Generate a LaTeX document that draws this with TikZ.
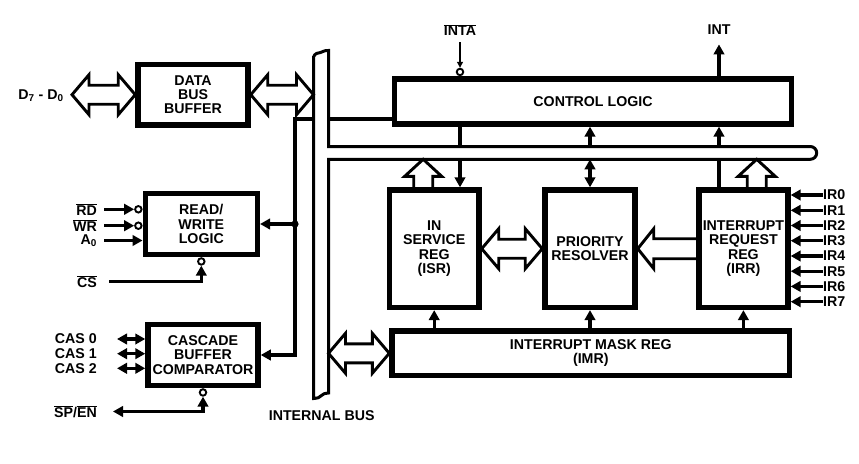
\documentclass[tikz,border=0pt]{standalone}
\usepackage{fontspec}
\setmainfont{Liberation Sans}
\usepackage{tikz}
\usetikzlibrary{arrows.meta,calc,positioning}

\newcommand{\ovl}[1]{$\overline{\hbox{#1}}$}
% hollow arrow with a head at both ends, #1 left tip, #2 right tip
\newcommand{\hollowboth}[2]{\draw[fat] (#1) -- ($(#1)+(17,-20)$) -- ($(#1)+(17,-9.5)$) -- ($(#2)+(-17,-9.5)$) -- ($(#2)+(-17,-20)$) -- (#2) -- ($(#2)+(-17,20)$) -- ($(#2)+(-17,9.5)$) -- ($(#1)+(17,9.5)$) -- ($(#1)+(17,20)$) -- cycle;}
% hollow arrow pointing left, #1 tip, #2 open foot
\newcommand{\hollowleft}[2]{\draw[fat] ($(#2)+(0,-10)$) -- ($(#1)+(16,-10)$) -- ($(#1)+(16,-20)$) -- (#1) -- ($(#1)+(16,20)$) -- ($(#1)+(16,10)$) -- ($(#2)+(0,10)$);}
% hollow arrow pointing up, #1 open foot, #2 tip
\newcommand{\hollowup}[2]{\draw[fat] ($(#1)+(-9.5,0)$) -- ($(#2)+(-9.5,17)$) -- ($(#2)+(-18.5,17)$) -- (#2) -- ($(#2)+(18.5,17)$) -- ($(#2)+(9.5,17)$) -- ($(#1)+(9.5,0)$);}

\begin{document}
\begin{tikzpicture}[
x=1pt,y=-1pt,
font=\bfseries\fontsize{14.2}{14.4}\selectfont,
block/.style={draw,line width=5.5pt,inner sep=0pt,align=center},
signal/.style={line width=3.3pt,>={Triangle[length=10pt,width=10.5pt]}},
fine/.style={line width=1.3pt,>={Triangle[length=6pt,width=6pt]}},
fat/.style={line width=2.9pt},
bubble/.style={circle,draw,fill=white,line width=1.9pt,inner sep=0pt,minimum size=6.5pt},
bus/.style={line width=3pt},
lbl/.style={inner sep=0pt}
]
\useasboundingbox (0,0) rectangle (859,463);

% Blocks
\node[block,minimum width=110pt,minimum height=60.5pt] (dbb) at (193,94.7) {DATA\\BUS\\BUFFER};
\node[block,minimum width=112pt,minimum height=61pt] (rw) at (201.3,224) {READ/\\WRITE\\LOGIC};
\node[block,minimum width=110pt,minimum height=61pt] (cas) at (203,355) {CASCADE\\BUFFER\\COMPARATOR};
\node[block,minimum width=397pt,minimum height=45pt] (ctrl) at (593,101.4) {CONTROL LOGIC};
\node[block,minimum width=89.5pt,minimum height=117.3pt] (isr) at (434.2,248.7) {IN\\SERVICE\\REG\\(ISR)};
\node[block,minimum width=90pt,minimum height=117.3pt] (pr) at (590,248.7) {PRIORITY\\RESOLVER};
\node[block,minimum width=89pt,minimum height=117.3pt] (irr) at (743.4,248.7) {INTERRUPT\\REQUEST\\REG\\(IRR)};
\node[block,minimum width=397.5pt,minimum height=44.5pt] (imr) at (590.8,353.3) {INTERRUPT MASK REG\\(IMR)};

% Internal bus
\coordinate (hbtop) at (0,146.5);
\coordinate (hbbot) at (0,159.3);
\coordinate (vbl) at (313.5,0);
\coordinate (vbr) at (328.5,0);
\draw[bus] (328.5,146.5) -- (810.3,146.5) arc[start angle=90,end angle=-90,radius=6.4pt]
-- (328.5,159.3) -- (328.5,393) .. controls (325,393.5) and (323,393.5) .. (321.5,395.5)
.. controls (320,398) and (317,398) .. (313.5,398.5) -- (313.5,57)
.. controls (315,53) and (318,53) .. (320.5,52.5) .. controls (323,52) and (323,50.5) .. (328.5,50.5) -- cycle;
\node (ibus) at (321.7,416) {INTERNAL BUS};

% Data bus
\node[lbl] (d) at (41,96) {D\textsubscript{7} - D\textsubscript{0}};
\coordinate (dtip) at (72,94.7);
\hollowboth{dtip}{dbb.west}
\hollowboth{dbb.east}{dbb.east -| vbl}

% Read/write logic
\node[lbl,anchor=east] (rd) at (97,209.3) {\ovl{RD}};
\node[lbl,anchor=east] (wr) at (97,225.7) {\ovl{WR}};
\node[lbl,anchor=east] (a0) at (97,240.5) {A\textsubscript{0}};
\node[lbl,anchor=east] (cs) at (97,281.7) {\ovl{CS}};
\node[bubble,anchor=east] (rdb) at (rw.west |- rd) {};
\node[bubble,anchor=east] (wrb) at (rw.west |- wr) {};
\node[bubble,below=0pt of rw] (csb) {};
\draw[signal,->] ([xshift=7pt]rd.east) -- (rdb.west);
\draw[signal,->] ([xshift=7pt]wr.east) -- (wrb.west);
\draw[signal,->] ([xshift=7pt]a0.east) -- (a0 -| rw.west);
\draw[signal,->] ([xshift=12pt]cs.east) -| (csb.south);

% Wire from the bus
\coordinate (tap) at (295,119);
\draw[signal] (tap -| vbr) -- (tap -| ctrl.west);
\draw[signal,->] (tap -| vbl) -- (tap) |- (cas.east);
\draw[signal,->] (tap |- rw.east) -- (rw.east);
\fill (tap |- rw.east) circle (3.6pt);

% Cascade
\node[lbl,anchor=east] (cas0) at (97,339) {CAS 0};
\node[lbl,anchor=east] (cas1) at (97,353.7) {CAS 1};
\node[lbl,anchor=east] (cas2) at (97,368.3) {CAS 2};
\node[lbl,anchor=east] (spen) at (97,411.5) {\ovl{SP}/\ovl{EN}};
\node[bubble,below=0pt of cas] (casb) {};
\draw[signal,<->] ([xshift=20pt]cas0.east) -- (cas0 -| cas.west);
\draw[signal,<->] ([xshift=20pt]cas1.east) -- (cas1 -| cas.west);
\draw[signal,<->] ([xshift=20pt]cas2.east) -- (cas2 -| cas.west);
\draw[signal,<->] ([xshift=16pt]spen.east) -| (casb.south);

% Control logic
\node (inta) at (460,30) {\ovl{INTA}};
\node (int) at (719,30) {INT};
\node[bubble,anchor=south] (intab) at (inta |- ctrl.north) {};
\draw[fine,->] ([yshift=-3pt]inta.south) -- (intab.north);
\draw[signal,->] (int |- ctrl.north) -- ([yshift=-6pt]int.south);
\draw[signal] (inta |- ctrl.south) -- (inta |- hbtop);
\draw[signal,->] (inta |- hbbot) -- (inta |- isr.north);
\draw[signal,->] (pr |- hbtop) -- (pr |- ctrl.south);
\draw[signal,<->] (pr |- hbbot) -- (pr.north);
\draw[signal,->] (int |- hbtop) -- (int |- ctrl.south);
\draw[signal] (int |- irr.north) -- (int |- hbbot);

% Registers
\coordinate (isrup) at ([xshift=-11pt]isr.north);
\coordinate (irrup) at ([xshift=13.3pt]irr.north);
\hollowup{isrup}{isrup |- hbbot}
\hollowup{irrup}{irrup |- hbbot}
\hollowboth{isr.east}{pr.west}
\hollowleft{pr.east}{irr.west}
\hollowboth{imr.west -| vbr}{imr.west}
\draw[signal,->] (imr.north -| isr) -- (isr.south);
\draw[signal,->] (imr.north -| pr) -- (pr.south);
\draw[signal,->] (imr.north -| irr) -- (irr.south);

% Interrupt requests
\node[lbl,anchor=west] (ir0) at (823,195) {IR0};
\node[lbl,anchor=west] (ir1) at (823,210.3) {IR1};
\node[lbl,anchor=west] (ir2) at (823,225.5) {IR2};
\node[lbl,anchor=west] (ir3) at (823,240.7) {IR3};
\node[lbl,anchor=west] (ir4) at (823,256) {IR4};
\node[lbl,anchor=west] (ir5) at (823,271.2) {IR5};
\node[lbl,anchor=west] (ir6) at (823,286.4) {IR6};
\node[lbl,anchor=west] (ir7) at (823,301.7) {IR7};
\draw[signal,->] (ir0.west) -- (ir0 -| irr.east);
\draw[signal,->] (ir1.west) -- (ir1 -| irr.east);
\draw[signal,->] (ir2.west) -- (ir2 -| irr.east);
\draw[signal,->] (ir3.west) -- (ir3 -| irr.east);
\draw[signal,->] (ir4.west) -- (ir4 -| irr.east);
\draw[signal,->] (ir5.west) -- (ir5 -| irr.east);
\draw[signal,->] (ir6.west) -- (ir6 -| irr.east);
\draw[signal,->] (ir7.west) -- (ir7 -| irr.east);
\end{tikzpicture}
\end{document}
